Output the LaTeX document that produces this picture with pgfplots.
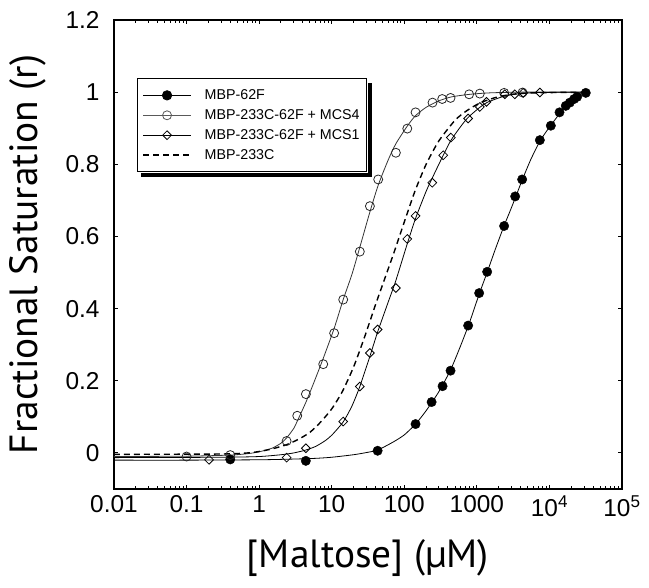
\documentclass[border=0pt]{standalone}
\usepackage{fontspec}
\setmainfont{Liberation Sans}
\newfontfamily\labelfont{PT Sans}
\usepackage{pgfplots}
\pgfplotsset{compat=1.18}
\begin{document}
\begin{tikzpicture}
\begin{axis}[
 scale only axis, width=508bp, height=469bp,
 xmode=log, xmin=0.01, xmax=1e5, ymin=-0.1, ymax=1.2,
 xtick={0.01,0.1,1,10,100,1000,10000,100000},
 xticklabels={0.01,0.1,1,10,100,1000,10\textsuperscript{4},10\textsuperscript{5}},
 minor xtick={},
 ytick={0,0.2,0.4,0.6,0.8,1,1.2},
 yticklabels={0,0.2,0.4,0.6,0.8,1,1.2},
 tick label style={font=\fontsize{24.5}{27}\selectfont},
 yticklabel style={xshift=-11bp},
 xticklabel style={yshift=-3bp},
 major tick length=4bp,
 tick style={black, line width=1bp},
 axis line style={line width=1.3bp},
 xlabel={[Maltose] (µM)}, ylabel={Fractional Saturation (r)},
 label style={font=\labelfont\fontsize{39.5}{44}\selectfont},
 xlabel style={at={(axis description cs:0.5,-0.147)}, anchor=center},
 ylabel style={at={(axis description cs:-0.169,0.5)}, anchor=center},
 legend style={name=leg, at={(0.045,0.876)}, anchor=north west, draw=black, line width=1bp, fill=white,
   font=\fontsize{14.3}{16}\selectfont,
   row sep=4.5bp, inner xsep=5bp, inner ysep=9bp},
 legend cell align=left,
 legend image code/.code={\draw[mark repeat=2,mark phase=2] plot coordinates {(0bp,0bp)(24bp,0bp)(48bp,0bp)};\path (0bp,0bp) (59bp,0bp);},
]
\addlegendimage{black, line width=0.8bp, mark=*, mark size=4.7bp}
\addlegendentry{MBP-62F}
\addlegendimage{black!65, line width=0.8bp, mark=o, mark size=4.5bp}
\addlegendentry{MBP-233C-62F + MCS4}
\addlegendimage{black, line width=0.8bp, mark=square, mark size=3.1bp, mark options={rotate=45}}
\addlegendentry{MBP-233C-62F + MCS1}
\addlegendimage{black, line width=1.4bp, dash pattern=on 6bp off 4bp}
\addlegendentry{MBP-233C}

% MBP-62F fitted curve
\addplot[black, line width=0.8bp, smooth, tension=0.4, forget plot] coordinates {
(0.01,-0.020)(0.1,-0.020)(1,-0.019)(3,-0.017)(6,-0.015)(10,-0.012)(20,-0.005)(30,0.001)(43,0.008)(70,0.030)(100,0.050)(143,0.080)(200,0.117)(300,0.170)(434,0.230)(600,0.298)(800,0.364)(1076,0.440)(1400,0.503)(1800,0.565)(2377,0.630)(3000,0.680)(4210,0.756)(5500,0.812)(7380,0.864)(10000,0.903)(13770,0.940)(17000,0.962)(22000,0.981)(31700,0.998)};
% MCS4 fitted curve
\addplot[black!80, line width=0.8bp, smooth, tension=0.4, forget plot] coordinates {
(0.01,-0.010)(0.1,-0.009)(0.4,-0.006)(0.7,-0.002)(1,0.003)(1.5,0.013)(2,0.027)(2.4,0.042)(3,0.068)(3.35,0.088)(4.4,0.140)(5.5,0.188)(7.64,0.262)(10.8,0.345)(14.4,0.425)(19,0.495)(24.4,0.570)(33.6,0.668)(43.7,0.742)(60,0.812)(76.6,0.857)(110,0.906)(143,0.935)(200,0.958)(300,0.976)(450,0.987)(800,0.994)(1500,0.998)(4000,1.0)(31700,1.0)};
% MCS1 fitted curve
\addplot[black, line width=0.8bp, smooth, tension=0.4, forget plot] coordinates {
(0.01,-0.013)(0.3,-0.012)(1,-0.010)(2,-0.005)(3,0.0)(4.4,0.008)(6,0.018)(8,0.033)(10,0.049)(14.4,0.086)(19,0.130)(24.4,0.184)(33.6,0.268)(42.9,0.335)(60,0.418)(76.6,0.478)(110,0.580)(143,0.650)(200,0.725)(243,0.762)(344,0.825)(438,0.866)(600,0.905)(759,0.930)(1100,0.958)(1400,0.972)(2400,0.989)(4000,0.996)(7400,0.999)(31700,1.0)};
% MBP-233C fitted curve (dashed)
\addplot[black, line width=1.4bp, dash pattern=on 6bp off 4bp, smooth, tension=0.4, forget plot] coordinates {
(0.01,-0.004)(0.3,-0.003)(0.7,0.0)(1,0.004)(1.5,0.011)(2.4,0.023)(3.5,0.038)(5,0.057)(7,0.085)(10,0.122)(14,0.170)(20,0.238)(28,0.318)(40,0.41)(50,0.465)(60,0.51)(72,0.555)(100,0.64)(140,0.725)(200,0.80)(300,0.865)(500,0.922)(720,0.948)(1100,0.970)(1800,0.985)(3000,0.994)(6000,0.998)(31700,1.0)};

% data points
\addplot[only marks, mark=*, mark size=4.7bp, black, forget plot] coordinates {
(0.40,-0.018)(4.4,-0.022)(42.9,0.006)(143,0.080)(238,0.141)(337,0.185)(434,0.228)(759,0.353)(1076,0.443)(1387,0.502)(2377,0.629)(3373,0.711)(4210,0.758)(7380,0.867)(10460,0.907)(13770,0.944)(16800,0.962)(19100,0.971)(21900,0.981)(24100,0.987)(31700,0.998)};
\addplot[only marks, mark=o, mark size=4.5bp, black!85, mark options={line width=0.8bp}, forget plot] coordinates {
(0.1,-0.010)(0.40,-0.006)(2.39,0.033)(3.35,0.103)(4.41,0.163)(7.64,0.246)(10.8,0.332)(14.4,0.425)(24.4,0.558)(33.6,0.684)(43.7,0.758)(76.6,0.832)(110,0.899)(143,0.944)(245,0.971)(333,0.981)(434,0.984)(783,0.994)(1099,0.996)(2377,0.998)(4260,0.999)};
\addplot[only marks, mark=square, mark size=3.1bp, black, mark options={line width=0.8bp, rotate=45}, forget plot] coordinates {
(0.204,-0.019)(2.39,-0.013)(4.41,0.013)(14.4,0.087)(24.4,0.184)(33.6,0.277)(42.9,0.342)(76.6,0.457)(110,0.593)(143,0.657)(243,0.749)(344,0.825)(438,0.874)(759,0.927)(1099,0.959)(1358,0.973)(2431,0.994)(3336,0.994)(4350,0.998)(7380,0.999)};
\end{axis}
% legend drop shadow (black strips along the right and bottom edges)
\fill[black] ([xshift=0.5bp,yshift=-4.5bp]leg.north east) rectangle ([xshift=4.5bp,yshift=-4.5bp]leg.south east);
\fill[black] ([xshift=4.5bp,yshift=-0.5bp]leg.south west) rectangle ([xshift=4.5bp,yshift=-4.5bp]leg.south east);
\pgfresetboundingbox
\path[use as bounding box] (current axis.south west) ++(-114bp,-99bp) rectangle ++(649bp,588bp);
\end{tikzpicture}
\end{document}
